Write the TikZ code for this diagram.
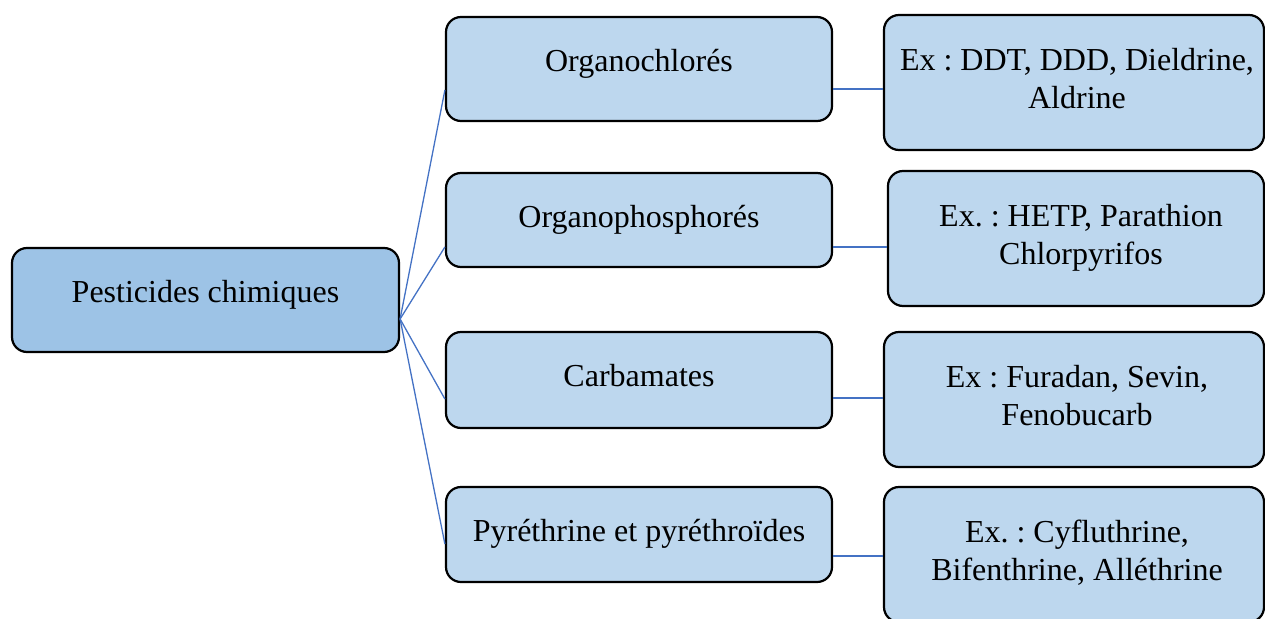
\documentclass[tikz,border=0pt]{standalone}
\usepackage{fontspec}
\setmainfont{Liberation Serif}
\usetikzlibrary{calc}
\definecolor{rootfill}{HTML}{9DC3E6}
\definecolor{boxfill}{HTML}{BDD7EE}
\definecolor{linkblue}{HTML}{4472C4}
\tikzset{
  box/.style={draw=black, line width=2.2pt, rounded corners=15pt, fill=boxfill, inner sep=0pt},
  rootbox/.style={box, fill=rootfill},
  txt/.style={anchor=base, align=center, inner sep=0pt, font=\fontsize{32}{38}\selectfont\frenchspacing},
  link/.style={draw=linkblue, line width=1.3pt}
}
\begin{document}
\begin{tikzpicture}[x=1pt,y=-1pt]
\useasboundingbox (0,0) rectangle (1265,618);
\clip (0,0) rectangle (1265,618);
% boxes
\node[rootbox, minimum width=387pt, minimum height=104pt] (root) at (205.5,300) {};
\node[box, minimum width=386pt, minimum height=104pt] (m1) at (639,69) {};
\node[box, minimum width=386pt, minimum height=94pt] (m2) at (639,220) {};
\node[box, minimum width=386pt, minimum height=96pt] (m3) at (639,380) {};
\node[box, minimum width=386pt, minimum height=95pt] (m4) at (639,534.5) {};
\node[box, minimum width=380pt, minimum height=135pt] (r1) at (1074,82.5) {};
\node[box, minimum width=376pt, minimum height=135pt] (r2) at (1076,238.5) {};
\node[box, minimum width=380pt, minimum height=135pt] (r3) at (1074,399.5) {};
\node[box, minimum width=380pt, minimum height=135pt] (r4) at (1074,554.5) {};
% texts
\node[txt] (t0) at (205.5,302) {Pesticides chimiques};
\node[txt] (t1) at (639,71) {Organochlorés};
\node[txt] (t2) at (639,227) {Organophosphorés};
\node[txt] (t3) at (639,386) {Carbamates};
\node[txt] (t4) at (639,541) {Pyréthrine et pyréthroïdes};
\node[txt] (u1) at (1077,108) {Ex : DDT, DDD, Dieldrine,\\Aldrine};
\node[txt] (u2) at (1081,264) {Ex. : HETP, Parathion\\Chlorpyrifos};
\node[txt] (u3) at (1077,425) {Ex : Furadan, Sevin,\\Fenobucarb};
\node[txt] (u4) at (1077,580) {Ex. : Cyfluthrine,\\Bifenthrine, Alléthrine};
% fan connectors
\coordinate (apex) at ($(root.east)+(0,19)$);
\draw[link] (apex) -- ($(m1.west)+(0,21)$);
\draw[link] (apex) -- ($(m2.west)+(0,27)$);
\draw[link] (apex) -- ($(m3.west)+(0,19)$);
\draw[link] (apex) -- ($(m4.west)+(0,9.5)$);
% mid to right connectors
\coordinate (c1) at ($(m1.east)+(0,20)$);
\coordinate (c2) at ($(m2.east)+(0,27)$);
\coordinate (c3) at ($(m3.east)+(0,18)$);
\coordinate (c4) at ($(m4.east)+(0,21.5)$);
\draw[link] (c1) -- (r1.west |- c1);
\draw[link] (c2) -- (r2.west |- c2);
\draw[link] (c3) -- (r3.west |- c3);
\draw[link] (c4) -- (r4.west |- c4);
\end{tikzpicture}
\end{document}
